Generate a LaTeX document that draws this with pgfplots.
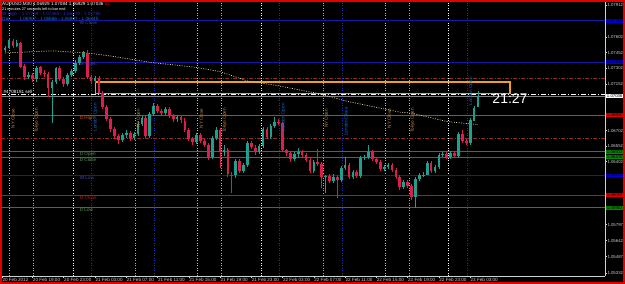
\documentclass[border=0pt]{standalone}
\usepackage{fontspec}
\setmainfont{Liberation Sans}
\usepackage{pgfplots}
\pgfplotsset{compat=1.18}
\usepackage{pgfplotstable}

\definecolor{bull}{HTML}{1FA08E}
\definecolor{bear}{HTML}{DC1E4E}
\definecolor{lvlblue}{HTML}{1818A4}
\definecolor{dred}{HTML}{8A2A2A}
\definecolor{dhigh}{HTML}{A8481E}
\definecolor{lgreen}{HTML}{2E7D2E}
\definecolor{lred}{HTML}{B41818}
\definecolor{ma}{HTML}{D8CC96}
\definecolor{sess}{HTML}{C08A48}
\definecolor{vgray}{HTML}{BBBBBB}
\definecolor{vyel}{HTML}{BFB070}
\definecolor{vblue}{HTML}{2030B0}
\definecolor{fg}{HTML}{D0D0D0}
\definecolor{rect}{HTML}{F0A020}

\newcommand\fa{\fontsize{4.6}{5}\selectfont}
\newcommand\fb{\fontsize{4.3}{5}\selectfont}
\newcommand\fc{\fontsize{3.8}{4.5}\selectfont}

\pgfplotstableread{
i o h l c
-7 1.0748 1.0752 1.0746 1.0750
-6 1.0750 1.0759 1.0749 1.0757
-4 1.0752 1.0757 1.0751 1.0755
-1 1.0722 1.0727 1.0720 1.0724
1 1.0720 1.0732 1.0717 1.0731
5 1.0711 1.0719 1.0678 1.0717
6 1.0717 1.0732 1.0715 1.0731
9 1.0715 1.0726 1.0713 1.0724
10 1.0724 1.0730 1.0722 1.0728
11 1.0728 1.0738 1.0726 1.0735
12 1.0735 1.0743 1.0733 1.0741
13 1.0741 1.0747 1.0739 1.0745
16 1.0718 1.0723 1.0716 1.0721
23 1.0661 1.0668 1.0659 1.0666
24 1.0666 1.0671 1.0663 1.0668
26 1.0663 1.0669 1.0661 1.0667
27 1.0667 1.0679 1.0665 1.0677
28 1.0677 1.0684 1.0675 1.0682
30 1.0665 1.0688 1.0663 1.0686
31 1.0686 1.0697 1.0684 1.0694
34 1.0687 1.0693 1.0685 1.0691
37 1.0681 1.0685 1.0679 1.0683
42 1.0659 1.0668 1.0657 1.0666
46 1.0645 1.0665 1.0643 1.0663
47 1.0663 1.0674 1.0661 1.0671
49 1.0650 1.0656 1.0646 1.0652
52 1.0627 1.0643 1.0625 1.0641
54 1.0631 1.0639 1.0629 1.0637
55 1.0637 1.0660 1.0635 1.0658
58 1.0650 1.0657 1.0648 1.0655
59 1.0655 1.0674 1.0653 1.0672
61 1.0664 1.0677 1.0662 1.0675
62 1.0675 1.0683 1.0673 1.0679
67 1.0643 1.0650 1.0641 1.0648
68 1.0648 1.0653 1.0644 1.0650
72 1.0631 1.0642 1.0629 1.0640
75 1.0626 1.0628 1.0610 1.0627
77 1.0622 1.0628 1.0620 1.0626
79 1.0623 1.0636 1.0621 1.0634
80 1.0634 1.0645 1.0632 1.0637
82 1.0626 1.0632 1.0624 1.0630
84 1.0627 1.0646 1.0625 1.0644
85 1.0644 1.0647 1.0642 1.0645
86 1.0645 1.0656 1.0643 1.0650
90 1.0633 1.0637 1.0631 1.0635
91 1.0635 1.0639 1.0633 1.0637
95 1.0616 1.0623 1.0614 1.0621
98 1.0606 1.0626 1.0596 1.0624
99 1.0624 1.0629 1.0622 1.0627
100 1.0627 1.0630 1.0626 1.0628
101 1.0628 1.0641 1.0627 1.0639
103 1.0631 1.0637 1.0629 1.0635
104 1.0635 1.0649 1.0633 1.0647
105 1.0647 1.0650 1.0645 1.0648
107 1.0645 1.0651 1.0643 1.0649
109 1.0646 1.0669 1.0644 1.0667
112 1.0658 1.0682 1.0656 1.0680
113 1.0680 1.0694 1.0679 1.0692
114 1.06929 1.07084 1.06929 1.07036
}\bulltab

\pgfplotstableread{
i o h l c
-5 1.0757 1.0758 1.0750 1.0752
-3 1.0755 1.0756 1.0731 1.0732
-2 1.0732 1.0734 1.0719 1.0722
0 1.0724 1.0726 1.0717 1.0720
2 1.0731 1.0732 1.0724 1.0726
3 1.0726 1.0729 1.0722 1.0725
4 1.0725 1.0727 1.0703 1.0711
7 1.0731 1.0732 1.0718 1.0720
8 1.0720 1.0722 1.0712 1.0715
14 1.0745 1.0748 1.0720 1.0722
15 1.0722 1.0724 1.0715 1.0718
17 1.0721 1.0723 1.0705 1.0706
18 1.0706 1.0708 1.0691 1.0693
19 1.0693 1.0695 1.0679 1.0681
20 1.0681 1.0683 1.0669 1.0672
21 1.0672 1.0674 1.0662 1.0665
22 1.0665 1.0667 1.0657 1.0661
25 1.0668 1.0670 1.0660 1.0663
29 1.0682 1.0684 1.0663 1.0665
32 1.0694 1.0696 1.0687 1.0689
33 1.0689 1.0691 1.0684 1.0687
35 1.0691 1.0693 1.0682 1.0684
36 1.0684 1.0686 1.0679 1.0681
38 1.0683 1.0685 1.0678 1.0680
39 1.0680 1.0682 1.0669 1.0671
40 1.0671 1.0673 1.0660 1.0662
41 1.0662 1.0664 1.0656 1.0659
43 1.0666 1.0668 1.0658 1.0660
44 1.0660 1.0662 1.0654 1.0656
45 1.0656 1.0658 1.0642 1.0645
48 1.0671 1.0673 1.0634 1.0650
50 1.0652 1.0653 1.0626 1.0628
51 1.0628 1.0630 1.0610 1.0627
53 1.0641 1.0643 1.0629 1.0631
56 1.0658 1.0660 1.0653 1.0654
57 1.0654 1.0656 1.0647 1.0650
60 1.0672 1.0674 1.0662 1.0664
63 1.0679 1.0681 1.0676 1.0678
64 1.0678 1.0679 1.0650 1.0652
65 1.0652 1.0653 1.0646 1.0649
66 1.0649 1.0651 1.0640 1.0643
69 1.0650 1.0652 1.0645 1.0647
70 1.0647 1.0649 1.0640 1.0642
71 1.0642 1.0644 1.0629 1.0631
73 1.0640 1.0653 1.0636 1.0638
74 1.0638 1.0640 1.0615 1.0626
76 1.0627 1.0628 1.0620 1.0622
78 1.0626 1.0627 1.0605 1.0623
81 1.0637 1.0639 1.0624 1.0626
83 1.0630 1.0632 1.0625 1.0627
87 1.0650 1.0652 1.0641 1.0643
88 1.0643 1.0645 1.0638 1.0640
89 1.0640 1.0642 1.0631 1.0633
92 1.0637 1.0639 1.0630 1.0632
93 1.0632 1.0634 1.0624 1.0626
94 1.0626 1.0628 1.0613 1.0616
96 1.0621 1.0623 1.0615 1.0617
97 1.0617 1.0619 1.0603 1.0606
102 1.0639 1.0641 1.0629 1.0631
106 1.0648 1.0650 1.0643 1.0645
108 1.0649 1.0651 1.0644 1.0646
110 1.0667 1.0671 1.0658 1.0660
111 1.0660 1.0662 1.0656 1.0658
}\beartab

\pgfplotstableread{
i p
-7 1.0745
5 1.0747
14 1.0745
20 1.0742
30 1.0736
42 1.0731
48 1.0727
55 1.0718
62 1.0714
73 1.0706
81 1.0698
94 1.0688
97 1.0687
106 1.0679
114 1.0676
}\matab

\begin{document}
\begin{tikzpicture}[x=1pt,y=1pt]
\useasboundingbox (0,0) rectangle (625,284);
\fill[black] (0,0) rectangle (625,284);
\begin{axis}[
  at={(2pt,8pt)}, anchor=south west,
  scale only axis, width=603pt, height=275pt,
  xmin=-7.8, xmax=146.5, ymin=1.05302, ymax=1.07950,
  axis x line*=bottom, axis y line*=right,
  axis line style={fg, line width=0.8pt, -},
  tick align=outside, major tick length=2pt,
  tick style={fg, line width=0.6pt},
  xtick={-7.8,0,8,16,24,32,40,48,56,64,72,80,88,96,104,112},
  xticklabels={20 Feb 2012,20 Feb 19:00,20 Feb 23:00,21 Feb 03:00,21 Feb 07:00,21 Feb 11:00,21 Feb 15:00,21 Feb 19:00,21 Feb 23:00,22 Feb 03:00,22 Feb 07:00,22 Feb 11:00,22 Feb 15:00,22 Feb 19:00,22 Feb 23:00,23 Feb 03:00},
  xticklabel style={anchor=north west, font=\fa, text=fg, inner sep=0pt, xshift=0.3pt, yshift=0.5pt},
  ytick={1.07912,1.07602,1.07452,1.07302,1.07152,1.06702,1.06552,1.06402,1.05797,1.05642,1.05487,1.05332},
  yticklabels={1.07912,1.07602,1.07452,1.07302,1.07152,1.06702,1.06552,1.06402,1.05797,1.05642,1.05487,1.05332},
  yticklabel style={anchor=west, font=\fb, text=fg, inner sep=0pt, xshift=0.3pt},
  clip mode=individual,
]
% vertical session lines
\addplot[vgray, dash pattern=on 1pt off 1.5pt, line width=0.6pt, forget plot] coordinates {(-5.9,1.053)(-5.9,1.0795)};
\addplot[vgray, dash pattern=on 1pt off 1.5pt, line width=0.6pt, forget plot] coordinates {(42.3,1.053)(42.3,1.0795)};
\addplot[vgray, dash pattern=on 1pt off 1.5pt, line width=0.6pt, forget plot] coordinates {(90.4,1.053)(90.4,1.0795)};
\addplot[white, dash pattern=on 1pt off 1.5pt, line width=0.6pt, forget plot] coordinates {(10.5,1.053)(10.5,1.0795)};
\addplot[white, dash pattern=on 1pt off 1.5pt, line width=0.6pt, forget plot] coordinates {(58.6,1.053)(58.6,1.0795)};
\addplot[white, dash pattern=on 1pt off 1.5pt, line width=0.6pt, forget plot] coordinates {(106.4,1.053)(106.4,1.0795)};
\addplot[vyel, dash pattern=on 1pt off 1.5pt, line width=0.6pt, forget plot] coordinates {(0.2,1.053)(0.2,1.0795)};
\addplot[vyel, dash pattern=on 1pt off 1.5pt, line width=0.6pt, forget plot] coordinates {(48.3,1.053)(48.3,1.0795)};
\addplot[vyel, dash pattern=on 1pt off 1.5pt, line width=0.6pt, forget plot] coordinates {(96.4,1.053)(96.4,1.0795)};
\addplot[vyel, dash pattern=on 1pt off 1.5pt, line width=0.6pt, forget plot] coordinates {(26.3,1.053)(26.3,1.0795)};
\addplot[vyel, dash pattern=on 1pt off 1.5pt, line width=0.6pt, forget plot] coordinates {(74.4,1.053)(74.4,1.0795)};
\addplot[vblue, dash pattern=on 1pt off 1.5pt, line width=0.6pt, forget plot] coordinates {(15.1,1.053)(15.1,1.0795)};
\addplot[vblue, dash pattern=on 1pt off 1.5pt, line width=0.6pt, forget plot] coordinates {(63.2,1.053)(63.2,1.0795)};
\addplot[vblue, dash pattern=on 1pt off 1.5pt, line width=0.6pt, forget plot] coordinates {(111.2,1.053)(111.2,1.0795)};
\addplot[vblue, dash pattern=on 1pt off 1.5pt, line width=0.6pt, forget plot] coordinates {(31.2,1.053)(31.2,1.0795)};
\addplot[vblue, dash pattern=on 1pt off 1.5pt, line width=0.6pt, forget plot] coordinates {(79.4,1.053)(79.4,1.0795)};
% horizontal levels
\addplot[lvlblue, line width=1.4pt, forget plot] coordinates {(-8,1.0776)(147,1.0776)};
\addplot[lvlblue, line width=1.4pt, forget plot] coordinates {(-8,1.0736)(147,1.0736)};
\addplot[lvlblue, line width=1.4pt, forget plot] coordinates {(-8,1.0627)(147,1.0627)};
\addplot[dred, line width=0.9pt, dash pattern=on 4pt off 1.5pt on 1pt off 1.5pt, forget plot] coordinates {(-8,1.0720)(147,1.0720)};
\addplot[dred, line width=0.9pt, dash pattern=on 4pt off 1.5pt on 1pt off 1.5pt, forget plot] coordinates {(-8,1.0663)(147,1.0663)};
\addplot[dhigh, line width=1.1pt, forget plot] coordinates {(-8,1.0685)(147,1.0685)};
\addplot[lgreen, line width=0.8pt, forget plot] coordinates {(-8,1.0650)(147,1.0650)};
\addplot[lgreen, line width=0.8pt, forget plot] coordinates {(-8,1.06445)(147,1.06445)};
\addplot[lred, line width=0.9pt, forget plot] coordinates {(-8,1.0608)(147,1.0608)};
\addplot[lgreen, line width=0.8pt, forget plot] coordinates {(-8,1.0596)(147,1.0596)};
\addplot[gray, line width=0.7pt, forget plot] coordinates {(-8,1.07036)(147,1.07036)};
\addplot[white, line width=0.7pt, dash pattern=on 5pt off 2pt on 1pt off 2pt, forget plot] coordinates {(-8,1.07052)(147,1.07052)};
% rectangle
\addplot[rect, line width=1.1pt, forget plot] coordinates {(16.1,1.0717)(122.2,1.0717)(122.2,1.07055)(16.1,1.07055)(16.1,1.0717)};
% moving average
\addplot[ma, line width=0.7pt, dash pattern=on 1pt off 1.4pt, forget plot] table[x=i,y=p] {\matab};
% candles: wicks
\addplot[draw=none, mark=none, forget plot, error bars/.cd, y dir=both, y explicit, error mark=none, error bar style={draw=bull, line width=0.8pt}] table[x=i, y expr={(\thisrow{h}+\thisrow{l})/2}, y error expr={(\thisrow{h}-\thisrow{l})/2}] {\bulltab};
\addplot[draw=none, mark=none, forget plot, error bars/.cd, y dir=both, y explicit, error mark=none, error bar style={draw=bear, line width=0.8pt}] table[x=i, y expr={(\thisrow{h}+\thisrow{l})/2}, y error expr={(\thisrow{h}-\thisrow{l})/2}] {\beartab};
% candles: bodies
\addplot[draw=none, mark=none, forget plot, error bars/.cd, y dir=both, y explicit, error mark=none, error bar style={draw=bull, line width=2.7pt}] table[x=i, y expr={(\thisrow{o}+\thisrow{c})/2}, y error expr={max(abs(\thisrow{c}-\thisrow{o})/2,0.00005)}] {\bulltab};
\addplot[draw=none, mark=none, forget plot, error bars/.cd, y dir=both, y explicit, error mark=none, error bar style={draw=bear, line width=2.7pt}] table[x=i, y expr={(\thisrow{o}+\thisrow{c})/2}, y error expr={max(abs(\thisrow{c}-\thisrow{o})/2,0.00005)}] {\beartab};

% session texts
\node[rotate=90, font=\fa, text=sess, inner sep=0pt] at (axis cs:-5.0,1.0682) {NY Close};
\node[rotate=90, font=\fa, text=sess, inner sep=0pt] at (axis cs:1.1,1.0680) {Tokyo Open};
\node[rotate=90, font=\fa, text=sess, inner sep=0pt] at (axis cs:27.2,1.0682) {NY Open};
\node[rotate=90, font=\fa, text=sess, inner sep=0pt] at (axis cs:43.2,1.0682) {NY Close};
\node[rotate=90, font=\fa, text=sess, inner sep=0pt] at (axis cs:49.2,1.0680) {Tokyo Open};
\node[rotate=90, font=\fa, text=sess, inner sep=0pt] at (axis cs:75.3,1.0682) {NY Open};
\node[rotate=90, font=\fa, text=sess, inner sep=0pt] at (axis cs:91.3,1.0682) {NY Close};
\node[rotate=90, font=\fa, text=sess, inner sep=0pt] at (axis cs:97.3,1.0680) {Tokyo Open};
\node[rotate=90, font=\fa, text=vblue!70!cyan, inner sep=0pt] at (axis cs:16.1,1.0683) {London Open};
\node[rotate=90, font=\fa, text=vblue!70!cyan, inner sep=0pt] at (axis cs:64.2,1.0683) {London Open};
\node[rotate=90, font=\fa, text=vblue!70!cyan, inner sep=0pt] at (axis cs:80.2,1.0679) {London Close};
\node[rotate=90, font=\fa, text=vblue!70!cyan, inner sep=0pt] at (axis cs:112.2,1.0708) {London Open};
% level labels
\node[anchor=north west, font=\fa, text=lvlblue!80!white, inner sep=0.3pt] at (axis cs:12.0,1.0776) {W Close};
\node[anchor=north west, font=\fa, text=lvlblue!80!white, inner sep=0.3pt] at (axis cs:12.0,1.0736) {W Open};
\node[anchor=north west, font=\fa, text=dhigh!70!orange, inner sep=0.3pt] at (axis cs:12.0,1.0685) {D High};
\node[anchor=north west, font=\fa, text=lgreen!80!white, inner sep=0.3pt] at (axis cs:12.0,1.0650) {D Open};
\node[anchor=north west, font=\fa, text=lgreen!80!white, inner sep=0.3pt] at (axis cs:12.0,1.06445) {D Close};
\node[anchor=north west, font=\fa, text=lvlblue!80!white, inner sep=0.3pt] at (axis cs:12.0,1.0627) {W Low};
\node[anchor=north west, font=\fa, text=lred, inner sep=0.3pt] at (axis cs:12.0,1.0608) {M Close};
\node[anchor=north west, font=\fa, text=lgreen!80!white, inner sep=0.3pt] at (axis cs:12.0,1.0596) {D Low};
\node[anchor=south west, font=\fa, text=white, inner sep=0.3pt] at (axis cs:-7.5,1.07052) {\#4708181 sell};
% right-axis price boxes
\node[anchor=west, fill=blue!85!black, text=black, font=\fb, inner sep=0.4pt, minimum width=17pt, xshift=1pt] at (axis cs:146.5,1.0776) {1.07760};
\node[anchor=west, fill=blue!85!black, text=black, font=\fb, inner sep=0.4pt, minimum width=17pt, xshift=1pt] at (axis cs:146.5,1.0736) {1.07363};
\node[anchor=west, fill=white, text=black, font=\fb, inner sep=0.4pt, minimum width=17pt, xshift=1pt] at (axis cs:146.5,1.07036) {1.07036};
\node[anchor=west, fill=red!90!black, text=black, font=\fb, inner sep=0.4pt, minimum width=17pt, xshift=1pt] at (axis cs:146.5,1.0685) {1.06850};
\node[anchor=west, fill=green!55!black, text=black, font=\fb, inner sep=0.4pt, minimum width=17pt, xshift=1pt] at (axis cs:146.5,1.0650) {1.06502};
\node[anchor=west, fill=green!55!black, text=black, font=\fb, inner sep=0.4pt, minimum width=17pt, xshift=1pt] at (axis cs:146.5,1.06445) {1.06445};
\node[anchor=west, fill=blue!85!black, text=black, font=\fb, inner sep=0.4pt, minimum width=17pt, xshift=1pt] at (axis cs:146.5,1.0627) {1.06270};
\node[anchor=west, fill=red!90!black, text=black, font=\fb, inner sep=0.4pt, minimum width=17pt, xshift=1pt] at (axis cs:146.5,1.0608) {1.06082};
\node[anchor=west, fill=green!55!black, text=black, font=\fb, inner sep=0.4pt, minimum width=17pt, xshift=1pt] at (axis cs:146.5,1.0596) {1.05962};
\end{axis}
% header texts
\node[anchor=west, inner sep=0pt, font=\fa, text=white] at (2,280) {AUDUSD,M30 1.06929 1.07084 1.06929 1.07036 \textcolor{red}{52}};
\node[anchor=west, inner sep=0pt, font=\fc, text=white] at (2,274.5) {21 minutes 27 seconds left to bar end};
\node[anchor=west, inner sep=0pt, font=\fa, text=lvlblue!90!white] at (2,270) {W High\quad 1.07759 - 1.07363 - 1.06270 - 1.07785};
\node[anchor=west, inner sep=0pt, font=\fa, text=lvlblue!60!cyan] at (2,265) {Day\quad\quad 1.06907 - 1.06866 - 1.06807 - 1.06445};
\node[anchor=center, inner sep=0pt, font=\fontsize{14}{14}\selectfont, text=white] at (510,185) {21:27};
\draw[red!90!black, line width=1.6pt] (0.8,0.8) rectangle (624.2,283.2);
\end{tikzpicture}
\end{document}
